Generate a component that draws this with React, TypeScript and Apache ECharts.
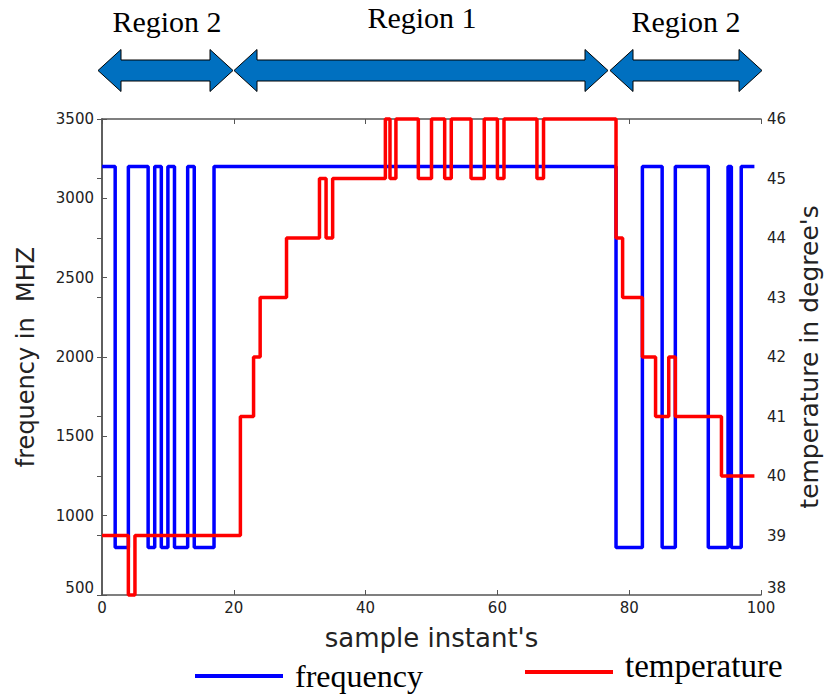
import React, { useEffect, useRef } from 'react';
import * as echarts from 'echarts';

// frequency (MHz) step series: value holds from x until next x
const freqX = [0, 2, 4, 7, 8, 9, 10, 11, 13, 14, 17, 78, 82, 85, 87, 92, 95, 95.5, 97, 99];
const freqY = [3200, 800, 3200, 800, 3200, 800, 3200, 800, 3200, 800, 3200, 800, 3200, 800, 3200, 800, 3200, 800, 3200, 3200];

// temperature (degrees) step series
const tempX = [0, 4, 5, 21, 23, 24, 28, 33, 34, 35, 43, 43.7, 44.6, 48, 50, 52, 53, 56, 58, 60, 61, 66, 67, 78, 79, 82, 84, 86, 87, 94, 99];
const tempY = [39, 38, 39, 41, 42, 43, 44, 45, 44, 45, 46, 45, 46, 45, 46, 45, 46, 45, 46, 45, 46, 45, 46, 44, 43, 42, 41, 42, 41, 40, 40];

const regionLabels = ['Region 2', 'Region 1', 'Region 2'];
const seriesNames = ['frequency', 'temperature'];

const AXIS_COLOR = '#555';
const LABEL_COLOR = '#222';

function arrowPoints(x1: number, x2: number, cy: number) {
  const hl = 23, hh = 21, bh = 10.5;
  return [
    [x1, cy], [x1 + hl, cy - hh], [x1 + hl, cy - bh], [x2 - hl, cy - bh], [x2 - hl, cy - hh],
    [x2, cy], [x2 - hl, cy + hh], [x2 - hl, cy + bh], [x1 + hl, cy + bh], [x1 + hl, cy + hh],
  ];
}

export default function App() {
  const ref = useRef<HTMLDivElement>(null);
  useEffect(() => {
    const chart = echarts.init(ref.current!, null, { renderer: 'svg' });
    const axisLine = { show: true, lineStyle: { color: AXIS_COLOR, width: 1.5 } };
    const axisTick = { show: true, inside: true, length: 5, lineStyle: { color: AXIS_COLOR, width: 1 } };
    const tickLabel = { color: LABEL_COLOR, fontFamily: 'DejaVu Sans', fontSize: 15 };
    const lowRich = { lo: { color: LABEL_COLOR, fontFamily: 'DejaVu Sans', fontSize: 15, padding: [0, 0, 14, 0] } };
    const serif = '"Liberation Serif", "Times New Roman", serif';
    const arrows = [[98, 233], [234, 608], [610, 762]];
    const regionPos = [[167, 21], [422, 17], [686, 21]];
    chart.setOption({
      animation: false,
      backgroundColor: '#fff',
      grid: { left: 102, right: 65, top: 119, bottom: 100 },
      xAxis: [
        {
          type: 'value', min: 0, max: 100, interval: 20, position: 'bottom',
          axisLine, axisTick, splitLine: { show: false },
          axisLabel: { ...tickLabel, margin: 5 },
          name: "sample instant's", nameLocation: 'middle', nameGap: 30,
          nameTextStyle: { fontFamily: 'DejaVu Sans', fontSize: 26, color: LABEL_COLOR },
        },
        {
          type: 'value', min: 0, max: 100, interval: 20, position: 'top',
          axisLine, axisTick, splitLine: { show: false }, axisLabel: { show: false },
        },
      ],
      yAxis: [
        {
          type: 'value', min: 500, max: 3500, interval: 500, position: 'left',
          axisLine, axisTick, splitLine: { show: false },
          axisLabel: {
            ...tickLabel, margin: 8,
            formatter: (v: number) => (v === 500 ? `{lo|${v}}` : `${v}`),
            rich: lowRich,
          },
          name: 'frequency in  MHZ', nameLocation: 'middle', nameRotate: 90, nameGap: 64,
          nameTextStyle: { fontFamily: 'DejaVu Sans', fontSize: 24, color: LABEL_COLOR },
        },
        {
          type: 'value', min: 38, max: 46, interval: 1, position: 'right',
          axisLine, axisTick, splitLine: { show: false },
          axisLabel: {
            ...tickLabel, margin: 6,
            formatter: (v: number) => (v === 38 ? `{lo|${v}}` : `${v}`),
            rich: lowRich,
          },
          name: "temperature in degree's", nameLocation: 'middle', nameRotate: 90, nameGap: 36,
          nameTextStyle: { fontFamily: 'DejaVu Sans', fontSize: 25, color: LABEL_COLOR },
        },
      ],
      series: [
        {
          name: seriesNames[0], type: 'line', step: 'end', xAxisIndex: 0, yAxisIndex: 0,
          showSymbol: false, symbol: 'none', clip: false,
          lineStyle: { color: '#0000ff', width: 3.5 }, itemStyle: { color: '#0000ff' },
          data: freqX.map((x, i) => [x, freqY[i]]),
        },
        {
          name: seriesNames[1], type: 'line', step: 'end', xAxisIndex: 0, yAxisIndex: 1,
          showSymbol: false, symbol: 'none', clip: false,
          lineStyle: { color: '#ff0000', width: 3.5 }, itemStyle: { color: '#ff0000' },
          data: tempX.map((x, i) => [x, tempY[i]]),
        },
      ],
      graphic: [
        ...arrows.map(([a, b]) => ({
          type: 'polygon',
          shape: { points: arrowPoints(a, b, 70.5) },
          style: { fill: '#0070C0', stroke: '#000', lineWidth: 1 },
        })),
        ...regionLabels.map((t, i) => ({
          type: 'text', x: regionPos[i][0], y: regionPos[i][1],
          style: { text: t, font: `30px ${serif}`, fill: '#000', align: 'center', verticalAlign: 'middle' },
        })),
        { type: 'line', shape: { x1: 195, y1: 676, x2: 283, y2: 676 }, style: { stroke: '#0000ff', lineWidth: 4 } },
        {
          type: 'text', x: 295, y: 676,
          style: { text: seriesNames[0], font: `32px ${serif}`, fill: '#000', align: 'left', verticalAlign: 'middle' },
        },
        { type: 'line', shape: { x1: 525, y1: 672, x2: 613, y2: 672 }, style: { stroke: '#ff0000', lineWidth: 4 } },
        {
          type: 'text', x: 625, y: 666,
          style: { text: seriesNames[1], font: `33px ${serif}`, fill: '#000', align: 'left', verticalAlign: 'middle' },
        },
      ],
    });
    return () => chart.dispose();
  }, []);
  return (
    <div
      ref={ref}
      style={{ position: 'fixed', left: 0, top: 0, width: 830, height: 695, background: '#fff' }}
    />
  );
}
